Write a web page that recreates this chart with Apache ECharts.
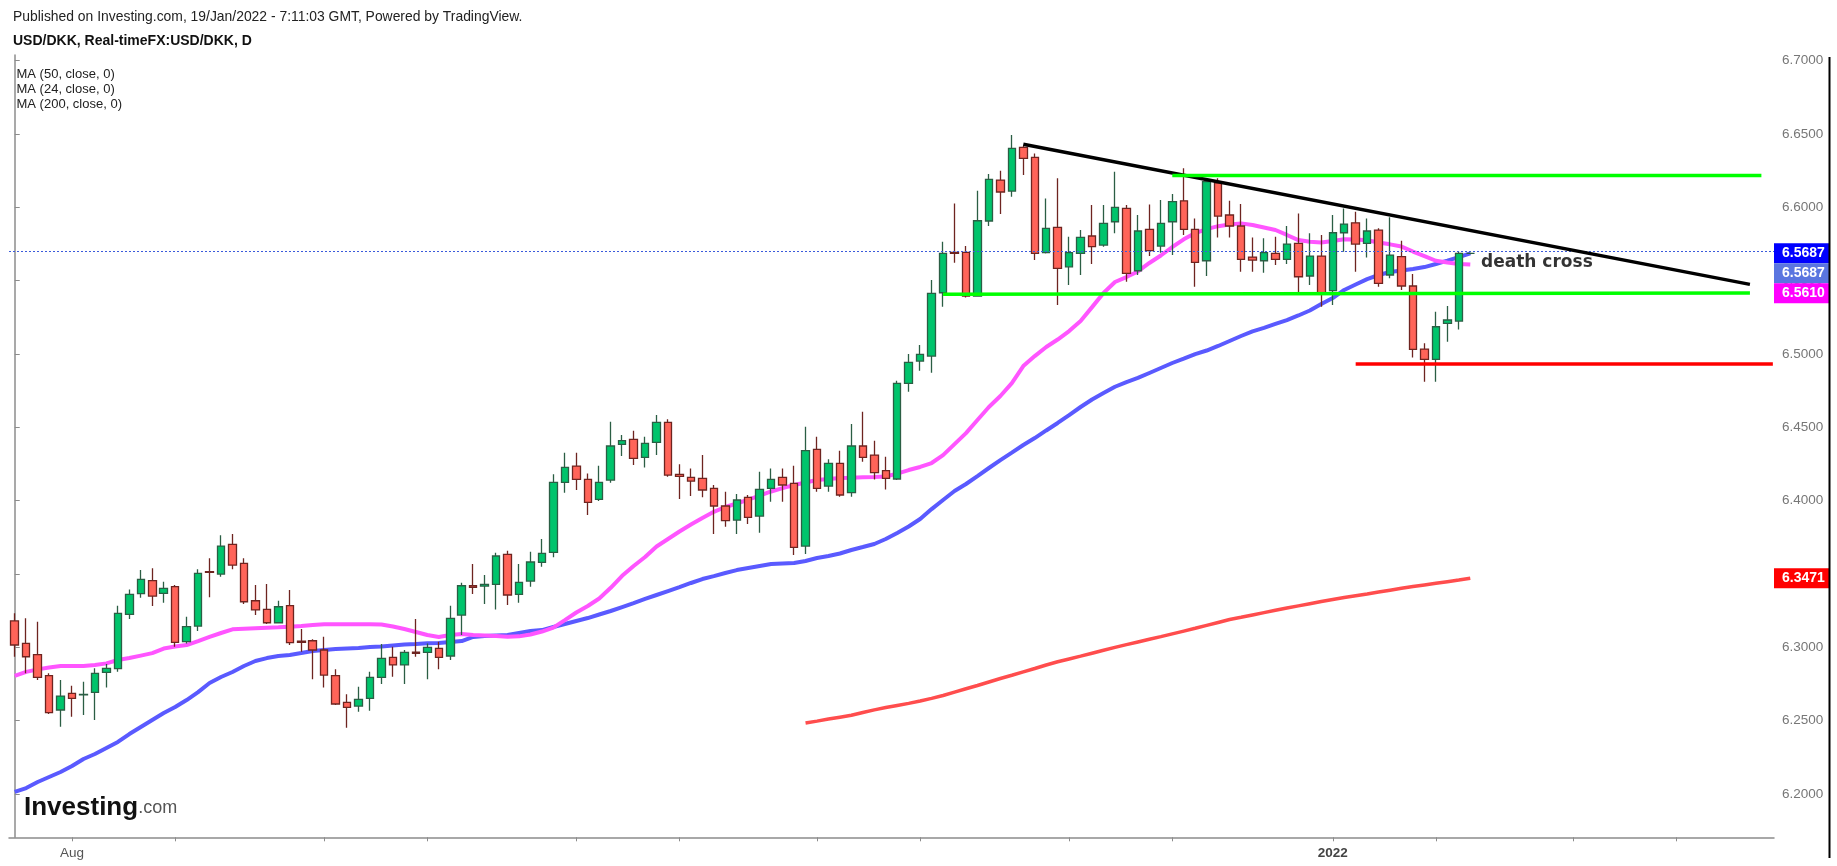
<!DOCTYPE html>
<html><head><meta charset="utf-8">
<script src="https://cdn.jsdelivr.net/npm/echarts@6/dist/echarts.min.js"></script>
<style>html,body{margin:0;padding:0;background:#fff;}#c{width:1837px;height:866px;}</style>
</head><body><div id="c"></div>
<script>
// ---- data (USD/DKK daily, 26 Jul 2021 - 19 Jan 2022) ----
const opens = [6.3180,6.3027,6.2950,6.2807,6.2573,6.2686,6.2677,6.2693,6.2830,6.2855,
6.3225,6.3366,6.3455,6.3368,6.3414,6.3039,6.3145,6.3516,6.3500,6.3702,
6.3573,6.3318,6.3259,6.3168,6.3284,6.3043,6.3045,6.2982,6.2807,6.2625,
6.2600,6.2652,6.2795,6.2932,6.2880,6.2968,6.2966,6.2993,6.2941,6.3220,
6.3420,6.3418,6.3430,6.3634,6.3361,6.3452,6.3580,6.3648,6.4125,6.4236,
6.4145,6.4009,6.4141,6.4384,6.4418,6.4295,6.4398,6.4534,6.4180,6.4159,
6.4152,6.4084,6.3964,6.3868,6.4023,6.3895,6.4084,6.4159,6.4118,6.3691,
6.4350,6.4100,6.4255,6.4055,6.4373,6.4311,6.4205,6.4148,6.4800,6.4952,
6.4986,6.5418,6.5693,6.5693,6.5395,6.5907,6.6186,6.6111,6.6409,6.6341,
6.5691,6.5864,6.5595,6.5686,6.5805,6.5743,6.5902,6.5993,6.5568,6.5850,
6.5736,6.5902,6.6045,6.5850,6.5636,6.6168,6.5948,6.5873,6.5661,6.5636,
6.5686,6.5645,6.5755,6.5532,6.5668,6.5432,6.5827,6.5895,6.5755,6.5845,
6.5539,6.5664,6.5464,6.5034,6.4964,6.5209,6.5225,6.5687];
const highs = [6.3232,6.3198,6.3175,6.2823,6.2777,6.2739,6.2766,6.2857,6.2886,6.3284,
6.3395,6.3527,6.3539,6.3448,6.3425,6.3209,6.3532,6.3607,6.3764,6.3773,
6.3607,6.3425,6.3432,6.3318,6.3391,6.3125,6.3055,6.3073,6.2850,6.2680,
6.2732,6.2834,6.3023,6.3005,6.2982,6.3193,6.3027,6.3039,6.3284,6.3441,
6.3568,6.3493,6.3645,6.3659,6.3568,6.3652,6.3739,6.4180,6.4327,6.4327,
6.4186,6.4239,6.4539,6.4448,6.4477,6.4436,6.4584,6.4555,6.4248,6.4220,
6.4311,6.4107,6.4061,6.4045,6.4039,6.4198,6.4220,6.4220,6.4239,6.4505,
6.4436,6.4282,6.4341,6.4523,6.4607,6.4409,6.4300,6.4818,6.5000,6.5061,
6.5505,6.5766,6.6027,6.5736,6.6114,6.6227,6.6250,6.6493,6.6418,6.6368,
6.6061,6.6198,6.5800,6.5845,6.6016,6.6016,6.6243,6.6016,6.5948,6.6020,
6.6050,6.6091,6.6266,6.5925,6.6198,6.6198,6.6045,6.6023,6.5795,6.5789,
6.5800,6.5873,6.5959,6.5823,6.5811,6.5948,6.5993,6.5970,6.5925,6.5857,
6.5932,6.5773,6.5545,6.5073,6.5289,6.5327,6.5700,6.5692];
const lows = [6.2936,6.2823,6.2777,6.2545,6.2459,6.2527,6.2539,6.2505,6.2727,6.2834,
6.3193,6.3339,6.3282,6.3305,6.3005,6.3027,6.3111,6.3341,6.3482,6.3532,
6.3295,6.3220,6.3159,6.3164,6.3016,6.2970,6.2782,6.2727,6.2607,6.2452,
6.2561,6.2568,6.2750,6.2800,6.2750,6.2936,6.2782,6.2850,6.2914,6.3084,
6.3364,6.3295,6.3259,6.3289,6.3305,6.3414,6.3550,6.3614,6.4055,6.4073,
6.3902,6.3998,6.4123,6.4305,6.4243,6.4227,6.4311,6.4164,6.4011,6.4032,
6.4023,6.3773,6.3823,6.3773,6.3841,6.3782,6.3993,6.3993,6.3630,6.3636,
6.4061,6.4061,6.4027,6.4027,6.4266,6.4145,6.4077,6.4141,6.4743,6.4886,
6.4873,6.5323,6.5623,6.5386,6.5391,6.5873,6.5955,6.6073,6.6220,6.5641,
6.5686,6.5334,6.5470,6.5539,6.5614,6.5732,6.5823,6.5493,6.5539,6.5668,
6.5691,6.5675,6.5811,6.5459,6.5532,6.5795,6.5795,6.5561,6.5561,6.5555,
6.5607,6.5614,6.5402,6.5470,6.5323,6.5334,6.5698,6.5561,6.5659,6.5459,
6.5516,6.5436,6.4977,6.4811,6.4811,6.5084,6.5168,6.5680];
const closes = [6.3016,6.2936,6.2795,6.2555,6.2668,6.2652,6.2680,6.2823,6.2857,6.3232,
6.3361,6.3464,6.3350,6.3402,6.3034,6.3141,6.3505,6.3512,6.3691,6.3561,
6.3311,6.3255,6.3168,6.3277,6.3032,6.3034,6.2982,6.2811,6.2614,6.2591,
6.2645,6.2795,6.2925,6.2880,6.2966,6.2959,6.3000,6.2932,6.3198,6.3420,
6.3409,6.3430,6.3623,6.3357,6.3443,6.3582,6.3641,6.4125,6.4227,6.4145,
6.3989,6.4125,6.4373,6.4409,6.4289,6.4391,6.4534,6.4175,6.4166,6.4134,
6.4073,6.3964,6.3864,6.4005,6.3886,6.4077,6.4145,6.4107,6.3682,6.4341,
6.4084,6.4255,6.4039,6.4373,6.4295,6.4191,6.4152,6.4800,6.4943,6.4998,
6.5414,6.5686,6.5686,6.5395,6.5909,6.6191,6.6105,6.6402,6.6334,6.5686,
6.5857,6.5584,6.5691,6.5795,6.5732,6.5891,6.6000,6.5550,6.5839,6.5705,
6.5891,6.6039,6.5850,6.5625,6.6175,6.5941,6.5873,6.5645,6.5641,6.5691,
6.5645,6.5750,6.5527,6.5668,6.5407,6.5827,6.5886,6.5750,6.5839,6.5482,
6.5675,6.5464,6.5032,6.4964,6.5186,6.5232,6.5687,6.5687];
const ma50 = [6.2014,6.2041,6.2082,6.2116,6.2150,6.2191,6.2239,6.2273,6.2314,6.2355,
6.2409,6.2457,6.2505,6.2552,6.2593,6.2641,6.2695,6.2757,6.2798,6.2832,
6.2873,6.2907,6.2927,6.2941,6.2948,6.2961,6.2975,6.2982,6.2989,6.2992,
6.2995,6.3002,6.3006,6.3013,6.3019,6.3023,6.3028,6.3030,6.3036,6.3043,
6.3071,6.3077,6.3081,6.3084,6.3098,6.3111,6.3118,6.3139,6.3159,6.3180,
6.3200,6.3224,6.3248,6.3275,6.3302,6.3330,6.3357,6.3384,6.3411,6.3439,
6.3466,6.3486,6.3507,6.3527,6.3541,6.3555,6.3568,6.3572,6.3575,6.3589,
6.3609,6.3623,6.3640,6.3664,6.3684,6.3705,6.3739,6.3780,6.3824,6.3875,
6.3943,6.4005,6.4066,6.4114,6.4168,6.4223,6.4277,6.4328,6.4380,6.4427,
6.4479,6.4530,6.4584,6.4639,6.4690,6.4734,6.4777,6.4809,6.4837,6.4871,
6.4905,6.4939,6.4969,6.5000,6.5024,6.5055,6.5089,6.5123,6.5154,6.5178,
6.5205,6.5232,6.5263,6.5297,6.5341,6.5382,6.5437,6.5474,6.5511,6.5539,
6.5559,6.5569,6.5580,6.5593,6.5614,6.5637,6.5661,6.5687];
const ma24 = [6.2805,6.2833,6.2850,6.2863,6.2873,6.2873,6.2873,6.2880,6.2891,6.2914,
6.2927,6.2944,6.2961,6.2992,6.3006,6.3016,6.3043,6.3071,6.3098,6.3123,
6.3127,6.3131,6.3134,6.3137,6.3141,6.3145,6.3152,6.3157,6.3157,6.3157,
6.3157,6.3157,6.3156,6.3142,6.3125,6.3105,6.3084,6.3071,6.3084,6.3091,
6.3084,6.3081,6.3077,6.3073,6.3075,6.3088,6.3108,6.3135,6.3186,6.3238,
6.3282,6.3333,6.3406,6.3488,6.3555,6.3616,6.3688,6.3739,6.3790,6.3838,
6.3882,6.3924,6.3957,6.3981,6.4008,6.4035,6.4063,6.4086,6.4107,6.4124,
6.4141,6.4148,6.4155,6.4157,6.4160,6.4161,6.4165,6.4185,6.4209,6.4230,
6.4257,6.4311,6.4386,6.4461,6.4550,6.4639,6.4714,6.4802,6.4918,6.4986,
6.5048,6.5099,6.5157,6.5225,6.5320,6.5416,6.5491,6.5525,6.5563,6.5621,
6.5672,6.5730,6.5782,6.5825,6.5852,6.5872,6.5883,6.5891,6.5880,6.5863,
6.5846,6.5812,6.5777,6.5765,6.5760,6.5771,6.5782,6.5781,6.5776,6.5761,
6.5748,6.5733,6.5699,6.5668,6.5636,6.5624,6.5614,6.5610];
const ma200Start = 69;
const ma200Values = [6.2484,6.2497,6.2511,6.2524,6.2537,6.2556,6.2574,6.2590,6.2604,6.2618,
6.2634,6.2652,6.2672,6.2695,6.2718,6.2740,6.2764,6.2788,6.2810,6.2833,
6.2856,6.2880,6.2902,6.2921,6.2940,6.2960,6.2980,6.3000,6.3019,6.3037,
6.3055,6.3073,6.3092,6.3111,6.3130,6.3150,6.3170,6.3190,6.3205,6.3221,
6.3237,6.3253,6.3268,6.3283,6.3298,6.3313,6.3327,6.3340,6.3352,6.3364,
6.3377,6.3390,6.3403,6.3415,6.3426,6.3437,6.3448,6.3459,6.3471];
const yTicks = [6.20,6.25,6.30,6.35,6.40,6.45,6.50,6.55,6.60,6.65,6.70];
const tickDates = ['2021-08-02','2021-08-13','2021-09-01','2021-09-14','2021-10-01','2021-10-14',
'2021-11-01','2021-11-12','2021-12-01','2021-12-14','2022-01-03','2022-01-14','2022-02-01','2022-02-14'];
const tickLabels = {'2021-08-02':'Aug','2022-01-03':'2022'};
// drawings (bar index, price)
const trendLine = [[88.0,6.6430],[151.4,6.5475]];
const upperLevel = [[101.0,6.6217],[152.4,6.6217]];
const lowerLevel = [[81.0,6.5408],[151.4,6.5416]];
const redLevel = [[117.0,6.4932],[153.4,6.4932]];
const noteText = 'death cross';
const notePos = [127.94,6.5622];
const lastPrice = 6.5687;
const priceTags = [
  {v:6.5687,c:'#0000ff'},
  {v:6.5687,c:'#5a75e0'},
  {v:6.5610,c:'#ff00ff'},
  {v:6.3471,c:'#ff0000'}
];
const legendLines = ['MA (50, close, 0)','MA (24, close, 0)','MA (200, close, 0)'];

// weekday categories (history + future space)
const categories = [];
(function(){let d=new Date(Date.UTC(2021,6,26));while(categories.length<154){const w=d.getUTCDay();if(w!==0&&w!==6)categories.push(d.toISOString().slice(0,10));d.setUTCDate(d.getUTCDate()+1);}})();

const ma200 = [];
for (let i=0;i<ma200Start;i++) ma200.push(null);
ma200Values.forEach(v=>ma200.push(v));

const candles = opens.map((o,i)=>[o,closes[i],lows[i],highs[i]]);
const FONT = 'Liberation Sans, Arial, sans-serif';

const chart = echarts.init(document.getElementById('c'));
const option = {
  animation:false,
  backgroundColor:'#ffffff',
  textStyle:{fontFamily:FONT},
  grid:{left:9,right:63,top:55,bottom:28.7,containLabel:false},
  xAxis:[
    {type:'category',data:categories,boundaryGap:true,
     axisLine:{show:true,lineStyle:{color:'#8c8c8c',width:1.5}},
     axisTick:{show:true,alignWithLabel:true,length:4,interval:(i,v)=>tickDates.indexOf(v)>=0,lineStyle:{color:'#8c8c8c',width:1}},
     axisLabel:{show:true,interval:(i,v)=>tickLabels[v]!==undefined,
       formatter:(v)=> v==='2022-01-03' ? '{b|'+tickLabels[v]+'}' : (tickLabels[v]||''),
       color:'#555',fontSize:13.5,margin:9,fontFamily:FONT,
       rich:{b:{fontWeight:'bold',color:'#444',fontSize:13.5,fontFamily:FONT}}},
     splitLine:{show:false}},
    {type:'value',min:-0.5,max:153.5,show:false,gridIndex:0}
  ],
  yAxis:{type:'value',position:'right',min:6.1705,max:6.7039,
    axisLine:{show:true,lineStyle:{color:'#8c8c8c',width:1.5}},
    axisTick:{show:true,customValues:yTicks,length:5,lineStyle:{color:'#8c8c8c'}},
    axisLabel:{show:true,customValues:yTicks,formatter:v=>Number(v).toFixed(4),color:'#777',fontSize:13.5,margin:8,fontFamily:FONT},
    splitLine:{show:false}},
  series:[
    {type:'line',name:'MA 200',xAxisIndex:0,data:ma200,showSymbol:false,z:1,
     lineStyle:{color:'#ff4d4d',width:3.5},connectNulls:false},
    {type:'line',name:'MA 50',xAxisIndex:0,data:ma50,showSymbol:false,z:1,
     lineStyle:{color:'#5a5aff',width:4}},
    {type:'line',name:'MA 24',xAxisIndex:0,data:ma24,showSymbol:false,z:1,
     lineStyle:{color:'#ff55ff',width:4}},
    {type:'candlestick',name:'USD/DKK',xAxisIndex:0,data:candles,barWidth:8,z:3,
     itemStyle:{color:'#00c46c',color0:'#ff6459',borderColor:'#2b5e44',borderColor0:'#6e2420',borderWidth:1.3},
     markLine:{silent:true,symbol:['none','none'],label:{show:false},
       lineStyle:{type:[2,2],color:'#3b5bdb',width:1},data:[{yAxis:lastPrice}]}},
    {type:'line',xAxisIndex:1,data:trendLine,showSymbol:false,z:5,lineStyle:{color:'#000',width:3.5}},
    {type:'line',xAxisIndex:1,data:upperLevel,showSymbol:false,z:5,lineStyle:{color:'#00ff00',width:3.5}},
    {type:'line',xAxisIndex:1,data:lowerLevel,showSymbol:false,z:5,lineStyle:{color:'#00ff00',width:3.5}},
    {type:'line',xAxisIndex:1,data:redLevel,showSymbol:false,z:5,lineStyle:{color:'#ff0000',width:3.5}},
    {type:'scatter',xAxisIndex:1,data:[notePos],symbolSize:0,z:6,
     label:{show:true,position:'right',distance:0,formatter:noteText,color:'#000',fontSize:17,fontWeight:'bold',fontFamily:'DejaVu Sans, Verdana, sans-serif'}}
  ]
};
chart.setOption(option);

// on-axis value tags with collision handling, plus page texts
const tagH = 20;
const tags = priceTags.map(t=>({v:t.v,c:t.c,y:chart.convertToPixel({yAxisIndex:0},t.v)}));
let prevBottom = -1e9;
tags.forEach(t=>{let top=t.y-tagH/2; if(top<prevBottom) top=prevBottom; t.top=top; prevBottom=top+tagH;});
const axisX = chart.convertToPixel({xAxisIndex:1},153.5);
const graphics = [];
tags.forEach(t=>{
  graphics.push({type:'rect',shape:{x:axisX,y:t.top,width:55,height:tagH},style:{fill:t.c},z:10});
  graphics.push({type:'text',x:axisX+8,y:t.top+tagH/2,style:{text:t.v.toFixed(4),fill:'#fff',font:'bold 14px '+FONT,verticalAlign:'middle'},z:11});
});
graphics.push({type:'line',shape:{x1:1829.5,y1:57,x2:1829.5,y2:858},style:{stroke:'#000',lineWidth:2},z:10});
graphics.push({type:'text',x:13,y:17,style:{text:'Published on Investing.com, 19/Jan/2022 - 7:11:03 GMT, Powered by TradingView.',fill:'#222',font:'13.9px '+FONT,verticalAlign:'middle'},z:10});
graphics.push({type:'text',x:13,y:41,style:{text:'USD/DKK, Real-timeFX:USD/DKK, D',fill:'#111',font:'bold 14px '+FONT,verticalAlign:'middle'},z:10});
legendLines.forEach((s,k)=>{
  graphics.push({type:'text',x:16.5,y:74+k*15.3,style:{text:s,fill:'#222',font:'13px '+FONT,verticalAlign:'middle'},z:10});
});
graphics.push({type:'text',x:24,y:808,style:{text:'{a|Investing}{b|.com}',verticalAlign:'middle',
  rich:{a:{fontSize:26,fontWeight:'bold',fill:'#111',fontFamily:FONT},b:{fontSize:18,fill:'#555',fontFamily:FONT}}},z:10});
chart.setOption({graphic:graphics});
</script>
</body></html>
